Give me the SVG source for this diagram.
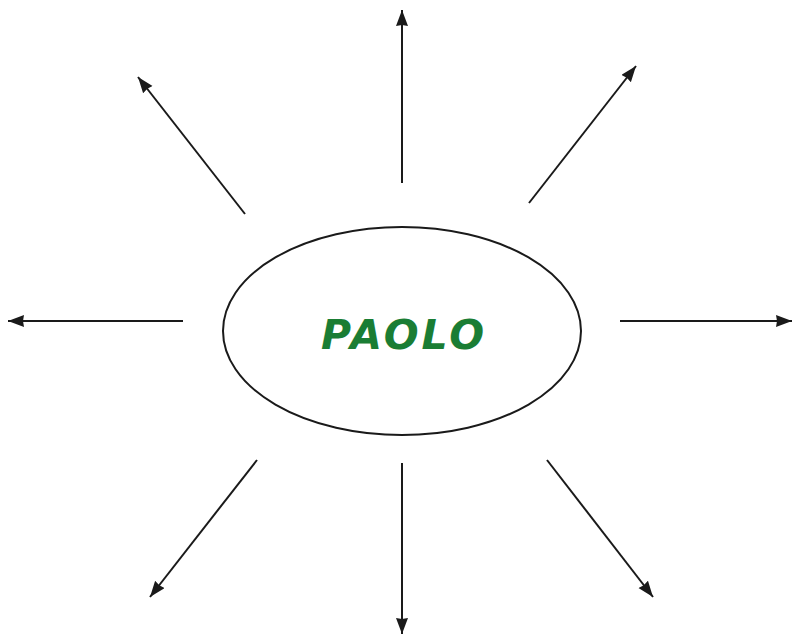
<svg xmlns="http://www.w3.org/2000/svg" width="793" height="635" viewBox="0 0 793 635">
<style>
.c{stroke:#1a1a1a;stroke-width:2;fill:none;marker-end:url(#ah)}
.n{fill:#fff;stroke:#1a1a1a;stroke-width:2}
.t{font-family:"DejaVu Sans",sans-serif;font-weight:bold;font-style:italic;font-size:41px;letter-spacing:3px;fill:#1a7d34;text-anchor:middle}
</style>
<defs>
<marker id="ah" markerUnits="userSpaceOnUse" markerWidth="18" markerHeight="14" refX="16" refY="6" orient="auto">
<path d="M0,0 L16,6 L0,12 L1,6 Z" fill="#1a1a1a"/>
</marker>
</defs>
<rect width="793" height="635" fill="#fff"/>
<g id="connectors">
<line class="c" x1="402" y1="183" x2="402" y2="10"/>
<line class="c" x1="183" y1="321" x2="8" y2="321"/>
<line class="c" x1="620" y1="321" x2="792" y2="321"/>
<line class="c" x1="402" y1="463" x2="402" y2="634"/>
<line class="c" x1="245" y1="214" x2="138" y2="77"/>
<line class="c" x1="529" y1="203" x2="636" y2="66"/>
<line class="c" x1="257" y1="460" x2="150" y2="597"/>
<line class="c" x1="547" y1="460" x2="653" y2="597"/>
</g>
<g id="paolo">
<ellipse class="n" cx="402" cy="331" rx="179" ry="104"/>
<text class="t" x="404" y="349">PAOLO</text>
</g>
</svg>
